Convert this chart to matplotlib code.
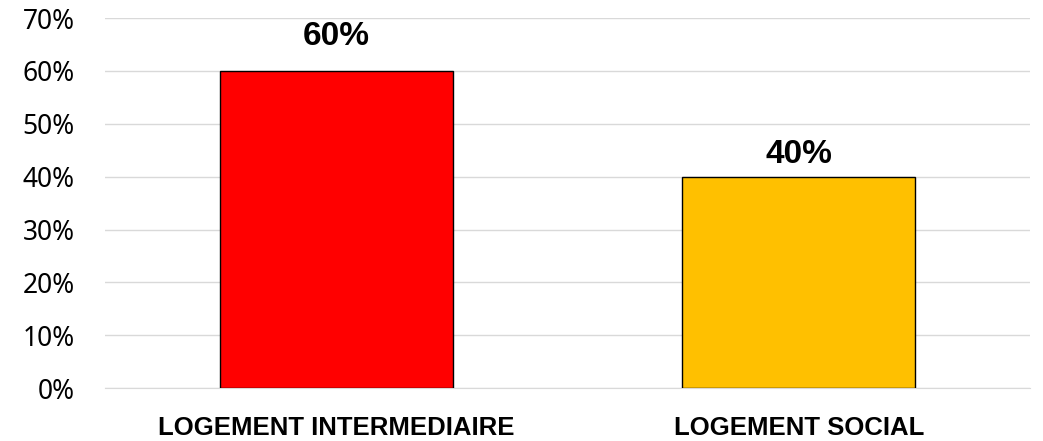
import matplotlib.pyplot as plt
from matplotlib.ticker import PercentFormatter

categories = ['LOGEMENT INTERMEDIAIRE', 'LOGEMENT SOCIAL']
values = [60, 40]
colors = ['#FF0000', '#FFC000']
yticks = [0, 10, 20, 30, 40, 50, 60, 70]

plt.rcParams['font.family'] = ['Noto Sans', 'DejaVu Sans']
bold_font = ['Liberation Sans', 'DejaVu Sans']

fig = plt.figure(figsize=(10.43, 4.41), dpi=100)
ax = fig.add_axes([0.1007, 0.120, 0.887, 0.839])

x = range(len(categories))
ax.bar(x, values, width=0.504, color=colors, edgecolor='black', linewidth=1, zorder=3)

# the top label sits higher above its bar than the other one
label_gap = [5.0, 2.6]
for xi, v, gap in zip(x, values, label_gap):
    ax.text(xi, v + gap, f'{v}%', ha='center', va='baseline',
            fontsize=24, fontweight='bold', family=bold_font, color='black')

ax.set_xlim(-0.5, 1.5)
ax.set_ylim(0, 70)
ax.set_yticks(yticks)
ax.yaxis.set_major_formatter(PercentFormatter(decimals=0))
ax.set_xticks(list(x))
ax.set_xticklabels(categories, fontsize=18.5, fontweight='bold', family=bold_font)
ax.tick_params(axis='y', labelsize=19, length=0, pad=22)
ax.tick_params(axis='x', length=0, pad=20)

ax.grid(axis='y', color='#d9d9d9', linewidth=1, zorder=0)
for side in ['top', 'right', 'left']:
    ax.spines[side].set_visible(False)
ax.spines['bottom'].set_color('#d9d9d9')

fig.savefig('out.png', dpi=100)
